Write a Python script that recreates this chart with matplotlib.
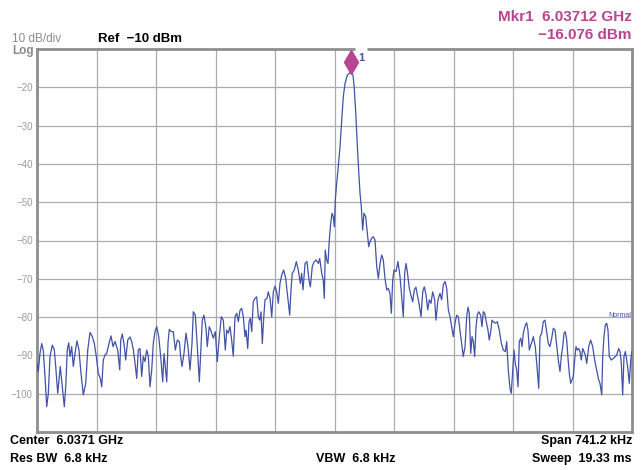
import matplotlib
matplotlib.use('Agg')
import matplotlib.pyplot as plt
from matplotlib import transforms

plt.rcParams['font.family'] = ['Liberation Sans', 'DejaVu Sans']

# analyser settings
CENTER_GHZ = 6.0371
SPAN_KHZ = 741.2
REF_DBM = -10
DB_PER_DIV = 10
MKR_GHZ = 6.03712
MKR_DBM = -16.076

# trace: offset from centre (kHz) and level (dBm)
freq_offset_khz = [
    # left skirt
    -370.6, -369.0, -366.9, -364.7, -362.8, -360.6, -358.5, -356.5, -354.4, -351.5,
    -349.0, -347.3, -344.8, -343.2, -341.6, -339.1, -336.6, -334.8, -332.9, -331.1,
    -329.5, -327.4, -325.4, -323.3, -320.8, -318.3, -315.8, -312.9, -309.9, -307.4,
    -304.6, -301.7, -299.2, -296.7, -294.2, -291.7, -290.0, -288.0, -285.9, -283.8,
    -280.9, -278.4, -275.9, -273.4, -270.1, -267.5, -266.3, -264.3, -261.8, -260.1,
    -257.6, -254.7, -252.6, -250.5, -248.5,
    -246.4, -244.4, -242.3, -240.2, -238.2, -236.1, -233.9, -231.9, -229.8, -227.7,
    -225.7, -223.6, -221.5, -219.0, -216.5, -214.0, -212.4, -210.8, -209.0, -207.4,
    -205.8, -203.3, -200.8, -198.3, -195.8, -193.3, -191.6, -190.0, -187.5, -185.0,
    -182.5, -180.0, -177.5, -175.9, -173.4, -170.9, -168.4, -166.7, -164.7, -162.6,
    -160.1, -158.5, -156.0, -153.5, -151.0, -148.5, -146.0, -143.5, -141.0, -138.5,
    -136.0,
    -134.3, -132.3, -130.2, -128.1, -126.1, -123.9, -121.8, -119.8, -117.7, -115.6,
    -113.6, -111.5, -110.2, -108.1, -106.5, -104.9, -103.1, -101.2, -99.0, -96.9,
    -94.9, -93.2, -91.6, -89.9, -88.2, -86.6, -84.1, -82.5, -80.3, -78.2,
    -76.2, -74.1, -72.0, -70.0, -67.9, -65.8, -63.3, -60.8, -58.3, -55.8,
    -54.2, -52.6, -50.1, -47.6, -45.1, -42.6, -40.9, -39.2, -36.7, -34.3,
    -31.8, -30.1, -27.7, -25.2, -22.7, -20.2, -18.4,
    # carrier
    -15.9, -14.0, -12.7, -11.5, -9.7, -8.1, -6.5, -4.7, -3.1, -1.5,
    -0.2, 1.0, 2.7, 4.7, 6.9, 9.0, 11.0, 13.1, 16.0, 20.0,
    23.0, 24.5, 26.5, 28.5, 30.3, 31.8, 33.4, 35.1, 36.7, 38.9,
    40.9, 42.6, 44.2,
    # right skirt
    46.3, 48.3, 50.5, 52.6, 54.6, 56.7, 58.8, 60.8, 62.9, 65.0,
    67.0, 69.1, 70.8, 72.5, 74.1, 76.6, 79.1, 81.6, 83.7, 85.7,
    87.4, 89.1, 90.7, 93.2, 95.7, 97.4, 99.4, 101.5, 103.6, 105.6,
    107.8, 109.9, 111.9, 114.0, 116.1, 118.1, 120.2, 122.3, 124.8, 126.4,
    128.9, 131.4, 133.5, 135.5, 137.7, 139.8, 141.8, 143.9, 146.0, 148.0,
    150.1, 152.2, 154.2, 156.3, 158.5, 160.4, 162.6, 164.7,
    166.3, 167.9, 169.7, 171.3, 172.9, 174.6, 176.3, 177.9, 179.6, 182.1,
    183.7, 185.4, 187.1, 188.7, 191.2, 192.8, 194.6, 196.2, 197.8, 200.3,
    202.8, 205.3, 207.8, 210.3, 212.8, 214.5, 216.5, 218.6, 220.2, 222.0,
    223.6, 225.2, 227.0, 228.6, 230.2, 232.0, 233.6, 235.2, 237.7, 239.4,
    241.0, 242.7, 244.4, 246.0, 247.6, 250.1, 252.6, 254.4,
    256.0, 258.1, 260.1, 262.2, 264.3, 266.3, 268.4, 270.6, 272.6, 274.7,
    276.8, 278.8, 280.9, 282.5, 284.3, 285.9, 287.5, 289.3, 290.9, 292.5,
    294.2, 295.9, 297.5, 299.2, 300.8, 302.5, 304.2, 305.8, 307.4, 309.2,
    310.8, 312.4, 314.2, 316.7, 319.1, 321.6, 324.1, 326.6, 329.1, 330.7,
    332.9, 334.1, 335.7, 337.3, 339.1, 340.7, 342.3, 344.8, 347.3, 349.8,
    351.5, 354.0, 355.7, 357.3, 359.0, 360.6, 362.3, 364.0, 365.6, 367.2,
    369.0, 370.6,
]
level_dbm = [
    -92.1, -94.3, -89.5, -86.9, -88.6, -95.6, -103.4, -99.9, -90.3, -87.3,
    -88.6, -92.9, -99.9, -96.4, -92.9, -98.2, -103.4, -98.2, -88.6, -86.7,
    -90.3, -87.7, -92.9, -89.5, -86.2, -88.6, -94.7, -100.3, -97.3, -88.6,
    -84.0, -85.1, -86.9, -90.3, -94.7, -96.0, -98.2, -91.2, -89.9, -89.5,
    -86.9, -84.9, -87.7, -86.4, -88.6, -93.8, -86.0, -84.4, -87.7, -91.2,
    -86.0, -85.2, -86.4, -88.6, -92.0,
    -96.0, -88.6, -88.2, -95.5, -90.3, -91.6, -88.6, -90.3, -98.2, -93.8,
    -86.8, -83.8, -82.5, -85.1, -90.3, -96.9, -89.5, -92.9, -96.9, -86.8,
    -83.2, -83.8, -83.8, -88.6, -86.0, -86.4, -90.3, -92.9, -89.5, -84.2,
    -87.7, -93.8, -86.8, -78.6, -79.5, -87.7, -96.9, -89.5, -80.8, -79.5,
    -82.9, -87.7, -82.5, -83.8, -85.5, -83.8, -91.6, -85.1, -79.9, -80.8,
    -88.6,
    -83.4, -84.2, -82.5, -86.0, -90.2, -79.9, -79.0, -81.2, -78.2, -77.7,
    -79.9, -85.1, -83.4, -88.2, -81.2, -80.3, -83.8, -76.0, -75.1, -74.7,
    -79.9, -80.8, -78.6, -86.9, -80.3, -75.5, -75.1, -73.4, -75.1, -79.9,
    -73.4, -71.9, -73.4, -76.4, -71.2, -69.0, -67.7, -69.9, -74.7, -79.5,
    -72.9, -68.6, -67.7, -65.5, -67.7, -71.2, -68.6, -72.9, -66.0, -65.5,
    -70.3, -72.1, -66.8, -65.5, -65.1, -66.0, -64.7,
    -68.6, -70.3, -75.1, -62.5, -65.1, -66.0, -59.9, -55.5, -52.9, -53.8,
    -56.4, -49.4, -45.1, -40.7, -35.5, -28.5, -22.4, -19.0, -16.8, -16.076,
    -16.8, -19.8, -26.8, -35.5, -42.5, -47.7, -51.2, -57.3, -52.9, -53.8,
    -58.1, -61.6, -60.3,
    -59.4, -59.0, -59.9, -66.8, -69.9, -66.0, -63.8, -65.1, -69.9, -72.9,
    -72.5, -73.8, -79.0, -70.3, -67.7, -68.1, -65.5, -69.4, -74.7, -79.9,
    -68.6, -66.0, -68.1, -72.5, -74.7, -76.0, -72.9, -72.2, -74.7, -76.8,
    -79.9, -73.4, -72.1, -74.2, -78.1, -75.5, -76.4, -73.4, -75.5, -80.8,
    -75.5, -73.8, -75.5, -71.6, -70.7, -72.5, -78.1, -79.9, -82.5, -85.1,
    -81.6, -79.5, -79.9, -83.4, -86.9, -90.3, -87.7, -79.9,
    -77.4, -79.0, -89.5, -85.1, -86.4, -90.3, -82.5, -79.5, -78.6, -79.5,
    -82.5, -78.6, -79.0, -80.8, -83.4, -86.0, -83.8, -80.8, -81.2, -81.6,
    -81.2, -83.4, -86.8, -88.6, -89.0, -86.4, -93.8, -98.6, -99.9, -93.8,
    -88.6, -92.1, -93.8, -98.2, -86.4, -85.5, -87.7, -84.2, -82.1, -81.5,
    -83.4, -88.6, -87.3, -86.4, -85.1, -87.7, -93.8, -98.6,
    -85.1, -84.2, -81.2, -80.8, -83.8, -86.9, -87.7, -85.5, -82.9, -83.4,
    -87.3, -91.2, -94.2, -90.3, -87.7, -84.2, -83.8, -86.0, -90.8, -94.7,
    -97.3, -96.4, -95.5, -91.2, -87.7, -88.6, -88.2, -89.0, -91.2, -88.2,
    -89.0, -89.9, -92.1, -87.7, -86.0, -87.7, -91.2, -93.8, -96.4, -97.3,
    -100.3, -90.3, -85.1, -82.1, -81.6, -83.4, -90.3, -91.2, -90.8, -90.3,
    -89.9, -88.2, -89.0, -92.1, -100.3, -90.3, -89.0, -91.2, -93.8, -97.3,
    -91.2, -89.0,
]

labelled_levels = [-20, -30, -40, -50, -60, -70, -80, -90, -100]

TRACE = '#4152a8'
MAGENTA = '#b9448f'
GRID = '#ababab'
FRAME = '#8e8e8e'
DIM = '#9a9a9a'

W, H = 643, 470
fig = plt.figure(figsize=(W / 100, H / 100), dpi=100)
ax = fig.add_axes([37 / W, 38 / H, 595 / W, 383 / H])

ax.plot(freq_offset_khz, level_dbm, color=TRACE, lw=0.9, zorder=3)

half = SPAN_KHZ / 2
bottom = REF_DBM - 10 * DB_PER_DIV
ax.set_xlim(-half, half)
ax.set_ylim(bottom, REF_DBM)
ax.set_xticks([-half + i * SPAN_KHZ / 10 for i in range(11)])
ax.set_xticklabels([])
yt = list(range(bottom, REF_DBM + 1, DB_PER_DIV))
ax.set_yticks(yt)
ax.set_yticklabels(['\u2212%d' % abs(v) if v in labelled_levels else '' for v in yt])
ax.tick_params(length=0, labelsize=7, labelcolor=DIM, pad=3)
ax.grid(True, color=GRID, lw=0.9)
for s in ax.spines.values():
    s.set_color(FRAME)
    s.set_linewidth(2)

# marker 1: diamond sitting on the peak, label breaks the top frame
mkr_khz = (MKR_GHZ - CENTER_GHZ) * 1e6
top_x = ax.get_xaxis_transform()
ax.plot([mkr_khz + 5, mkr_khz + 21], [1, 1], color='white', lw=3.5,
        transform=top_x, clip_on=False, zorder=6, solid_capstyle='butt')
up = transforms.offset_copy(ax.transData, fig=fig, x=0, y=7.5, units='points')
ax.plot([mkr_khz], [MKR_DBM], marker='d', ms=12, color=MAGENTA, mec=MAGENTA,
        transform=up, clip_on=False, zorder=7)
ax.annotate('1', xy=(mkr_khz, MKR_DBM), xytext=(7.5, 10.5), textcoords='offset points',
            ha='center', va='center', fontsize=8, fontweight='bold', color='#4a55a0',
            annotation_clip=False, zorder=7)

ax.text(0.998, -79.5, 'Normal', transform=ax.get_yaxis_transform(), ha='right', va='center',
        fontsize=5, color=TRACE)

# header / footer annotations
def ftxt(x, y, s, **kw):
    fig.text(x / W, 1 - y / H, s, va='center', **kw)

ftxt(12, 39, '10 dB/div', fontsize=8.5, color='#8a8a8a')
ftxt(12, 51, 'Log', fontsize=8.5, color='#8a8a8a', fontweight='bold')
ftxt(98, 39, 'Ref  \u221210 dBm', fontsize=9.5, fontweight='bold', color='black')
ftxt(632, 17, 'Mkr1  %.5f GHz' % MKR_GHZ, ha='right', fontsize=11, fontweight='bold', color=MAGENTA)
ftxt(632, 35, '\u2212%.3f dBm' % abs(MKR_DBM), ha='right', fontsize=11, fontweight='bold', color=MAGENTA)

ftxt(10, 441, 'Center  %.4f GHz' % CENTER_GHZ, fontsize=9, fontweight='bold')
ftxt(10, 459, 'Res BW  6.8 kHz', fontsize=9, fontweight='bold')
ftxt(356, 459, 'VBW  6.8 kHz', ha='center', fontsize=9, fontweight='bold')
ftxt(632, 441, 'Span %.1f kHz' % SPAN_KHZ, ha='right', fontsize=9, fontweight='bold')
ftxt(632, 459, 'Sweep  19.33 ms', ha='right', fontsize=9, fontweight='bold')

fig.savefig('out.png', dpi=100)
